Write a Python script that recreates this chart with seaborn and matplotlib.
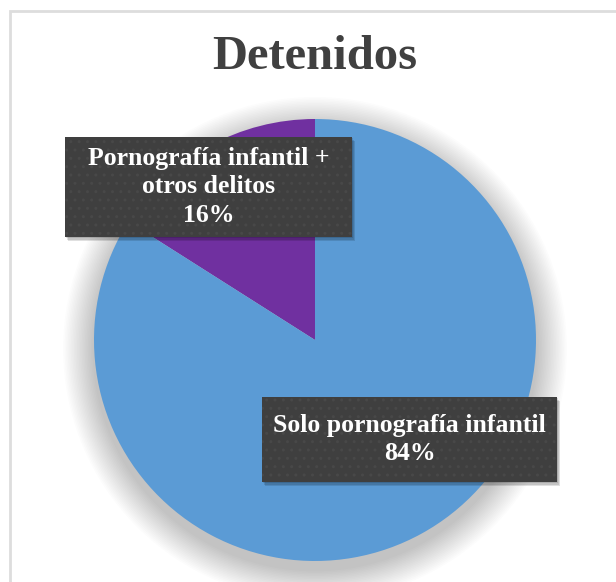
import matplotlib.pyplot as plt
import matplotlib.patches as mpatches
import seaborn as sns

# datos
categorias = ["Pornografía infantil +\notros delitos", "Solo pornografía infantil"]
porcentajes = [16, 84]
colores = ["#7030A0", "#5B9BD5"]
titulo = "Detenidos"

sns.set_style("white")
plt.rcParams['font.family'] = ['Liberation Serif', 'DejaVu Serif']
plt.rcParams['hatch.linewidth'] = 1.0

W, H = 616, 582
fig = plt.figure(figsize=(W / 100, H / 100), dpi=100)

# marco gris claro
fig.add_artist(mpatches.Rectangle((10 / W, -0.1), 1.2, 1 - 10.5 / H + 0.1,
                                  transform=fig.transFigure, fill=False,
                                  edgecolor="#dddddd", linewidth=2))

cx, cy, r = 315, 340, 221
ax = fig.add_axes([(cx - r) / W, (H - cy - r) / H, 2 * r / W, 2 * r / H])
ax.set_xlim(-1, 1)
ax.set_ylim(-1, 1)
ax.axis("off")

# sombra difusa alrededor del pastel
n = 20
for i in range(n):
    ax.add_patch(mpatches.Circle((0, -0.04), 1.0 + 0.007 * (n - i), color="#000000",
                                 alpha=0.01, linewidth=0, clip_on=False))

ax.pie(porcentajes, colors=colores, startangle=90, counterclock=True,
       radius=1, wedgeprops=dict(linewidth=0))
ax.set_xlim(-1, 1)
ax.set_ylim(-1, 1)

# cajas de etiquetas
cajas = [(-1.131, 0.466, 1.298, 0.453), (-0.240, -0.643, 1.335, 0.385)]
for (x0, y0, w, h), cat, p in zip(cajas, categorias, porcentajes):
    for k in range(4):
        ax.add_patch(mpatches.Rectangle((x0 + 0.004 * k, y0 - 0.006 * k), w, h,
                                        facecolor="#000000", alpha=0.12, linewidth=0,
                                        clip_on=False, zorder=4))
    ax.add_patch(mpatches.Rectangle((x0, y0), w, h, facecolor="#3f3f3f",
                                    edgecolor="#484848", linewidth=0, hatch="..",
                                    clip_on=False, zorder=5))
    ax.text(x0 + w / 2, y0 + h / 2, f"{cat}\n{p}%", ha="center", va="center",
            color="white", fontsize=18.5, fontweight="bold", linespacing=1.32,
            zorder=6, clip_on=False)

fig.text(cx / W, 1 - 57 / H, titulo, ha="center", va="center", fontsize=35,
         fontweight="bold", color="#404040")

fig.savefig("out.png", dpi=100, facecolor="white")
